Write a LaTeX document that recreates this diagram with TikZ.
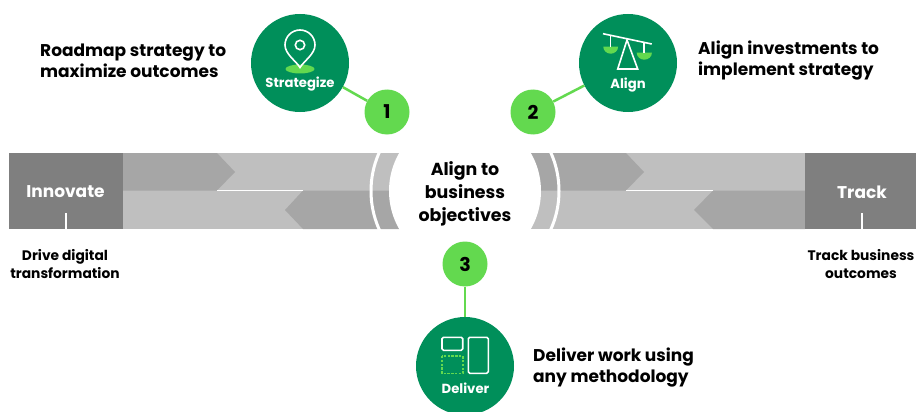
\documentclass[tikz,border=0pt]{standalone}
\usepackage{fontspec}
\setmainfont{Poppins}
\definecolor{boxgray}{HTML}{7F7F7F}
\definecolor{darkband}{HTML}{A6A6A6}
\definecolor{lightband}{HTML}{BFBFBF}
\definecolor{deepgreen}{HTML}{008F5A}
\definecolor{limegreen}{HTML}{63D94F}
\tikzset{
  stage/.style={circle,fill=deepgreen,minimum size=98pt,inner sep=0pt},
  numdot/.style={circle,fill=limegreen,minimum size=45pt,inner sep=0pt,text=black,font=\fontsize{19}{19}\selectfont\bfseries},
  link/.style={draw=limegreen,line width=2.5pt},
  stagelabel/.style={inner sep=0pt,text=white,font=\fontsize{13.2}{15}\selectfont\bfseries},
  endlabel/.style={inner sep=0pt,text=white,font=\fontsize{17}{19}\selectfont\bfseries},
  caption/.style={inner sep=0pt,align=left,anchor=west,text=black,font=\fontsize{17}{21}\selectfont\bfseries},
  smallcap/.style={inner sep=0pt,align=center,text=black,font=\fontsize{13.8}{18}\selectfont\bfseries},
  centertext/.style={inner sep=0pt,align=center,text=black,font=\fontsize{17.4}{23}\selectfont\bfseries},
  iconline/.style={draw=white,line width=1.6pt},
}
\begin{document}
\begin{tikzpicture}[x=1pt,y=-1pt]
\useasboundingbox (0,0) rectangle (916,412);
\clip (0,0) rectangle (916,412);
% band
\fill[lightband] (123,153) rectangle (805,229);
\fill[darkband] (123,153) -- (217,153) -- (235,172) -- (217,190.5) -- (123,190.5) -- cycle;
\fill[darkband] (465,190.5) -- (303,190.5) -- (285,210) -- (303,229) -- (465,229) -- cycle;
\fill[darkband] (465,153) -- (626,153) -- (644,172) -- (626,190.5) -- (465,190.5) -- cycle;
\fill[darkband] (805,190.5) -- (713,190.5) -- (694,210) -- (713,229) -- (805,229) -- cycle;
\draw[white,line width=1pt] (217,190.5) -- (303,190.5);
\draw[white,line width=1pt] (626,190.5) -- (713,190.5);
\begin{scope}
  \clip (123,153) rectangle (805,229);
  \draw[white,line width=3pt] (465,191) circle[radius=94];
  \fill[white] (465,191) circle[radius=76];
\end{scope}
\fill[boxgray] (9,153) rectangle (123,229);
\fill[boxgray] (805,153) rectangle (916,229);
\draw[white,line width=1.3pt] (66,213) -- (66,229);
\draw[white,line width=1.3pt] (862,213) -- (862,229);
\node[endlabel] (innovate) at (65.5,192) {Innovate};
\node[endlabel] (track) at (862,192) {Track};
\node[centertext] (center) at (465,193.5) {Align to\\business\\objectives};
\node[smallcap] (drive) at (65,264) {Drive digital\\transformation};
\node[smallcap] (trackcap) at (861,264) {Track business\\outcomes};
% circles
\node[stage] (strategize) at (300,63) {};
\node[stage] (alignc) at (628,63) {};
\node[stage] (deliver) at (465,366) {};
\node[numdot] (n1) at (387,112) {1};
\node[numdot] (n2) at (533,112) {2};
\node[numdot] (n3) at (465,264) {3};
\draw[link] (strategize) -- (n1);
\draw[link] (alignc) -- (n2);
\draw[link] (n3) -- (deliver);
\node[stagelabel] (strategizel) at (300,84.5) {Strategize};
\node[stagelabel] (alignl) at (628,85) {Align};
\node[stagelabel] (deliverl) at (465.5,388) {Deliver};
% pin icon
\fill[limegreen] (300,69) ellipse[x radius=14.5,y radius=4.5];
\draw[iconline,line join=miter] (300,67.5) .. controls (296,61) and (285,54) .. (285,45) arc[start angle=180,end angle=360,radius=15] .. controls (315,54) and (304,61) .. cycle;
\draw[iconline] (300,45) circle[radius=4.7];
% scale icon
\fill[limegreen] (603.3,46.7) arc[start angle=180,end angle=0,x radius=7.4,y radius=7] -- cycle;
\fill[limegreen] (636.7,52.7) arc[start angle=180,end angle=0,x radius=7.6,y radius=7] -- cycle;
\draw[iconline] (603,33.7) -- (651.7,44);
\draw[iconline,line width=1.2pt] (610.7,35.5) -- (610.7,46.7);
\draw[iconline,line width=1.2pt] (644,42.5) -- (644,52.7);
\draw[iconline,line join=miter] (627,40) -- (617.7,69) -- (637.7,69) -- cycle;
% board icon
\draw[iconline,rounded corners=1.5pt] (442,337.3) rectangle (462.7,350.3);
\draw[iconline,rounded corners=1.5pt] (468.3,337.3) rectangle (488.3,373.3);
\draw[draw=limegreen,line width=1.9pt,dash pattern=on 2.4pt off 1.4pt] (442,356) rectangle (462.7,373.5);
% captions
\node[caption] (cap1) at (40,61) {Roadmap strategy to\\maximize outcomes};
\node[caption] (cap2) at (698,61) {Align investments to\\implement strategy};
\node[caption] (cap3) at (533,368) {Deliver work using\\any methodology};
\end{tikzpicture}
\end{document}
